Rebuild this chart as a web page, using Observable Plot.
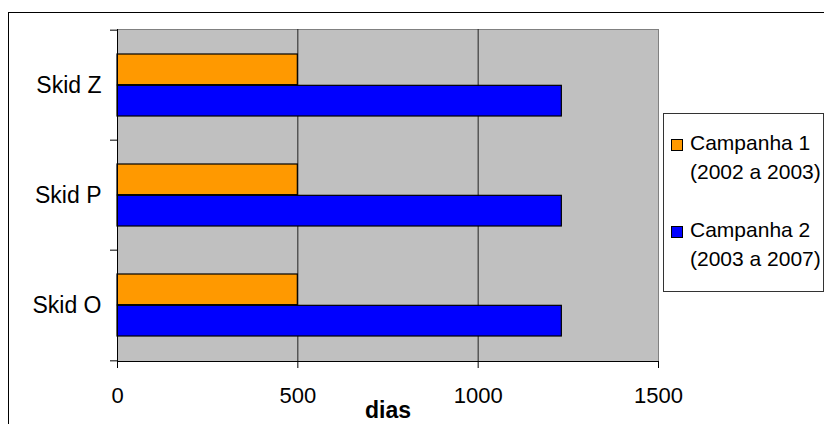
<!DOCTYPE html>
<html>
<head>
<meta charset="utf-8">
<script src="https://cdn.jsdelivr.net/npm/d3@7"></script>
<script src="https://cdn.jsdelivr.net/npm/@observablehq/plot@0.6"></script>
<style>
  html, body { margin: 0; padding: 0; background: #fff; overflow: hidden; }
  #wrap { position: relative; width: 824px; height: 424px; font-family: "Liberation Sans", Arial, sans-serif; }
  #border { position: absolute; left: 8px; top: 12px; width: 900px; height: 500px; border: 1px solid #000; box-sizing: border-box; }
  #chart { position: absolute; left: 0; top: 0; }
  #legend { position: absolute; left: 663px; top: 113px; width: 161px; height: 179px; box-sizing: border-box;
            border: 1px solid #333; background: #fff; font-size: 21px; color: #000; padding-top: 14px; }
  .entry { position: relative; padding-left: 26px; line-height: 29px; white-space: nowrap; }
  .entry + .entry { margin-top: 29px; }
  .swatch { position: absolute; left: 7px; top: 11px; width: 10px; height: 10px; border: 1px solid #000; box-sizing: content-box; }
</style>
</head>
<body>
<div id="wrap">
  <div id="border"></div>
  <div id="chart"></div>
  <div id="legend"></div>
</div>
<script>
// Categories and values (days per campaign)
const skids = ["Skid Z", "Skid P", "Skid O"];
const campanha1 = [500, 500, 500];
const campanha2 = [1232, 1232, 1232];
const seriesNames = ["Campanha 1", "Campanha 2"];
const seriesPeriods = ["(2002 a 2003)", "(2003 a 2007)"];
const seriesColors = ["#FF9900", "#0000FF"];
const xTicks = [0, 500, 1000, 1500];
const xTitle = "dias";

const rows1 = skids.map((s, i) => ({skid: s, dias: campanha1[i]}));
const rows2 = skids.map((s, i) => ({skid: s, dias: campanha2[i]}));

// Layout of the plot area
const W = 824, H = 424;
const mL = 117, mR = 166, mT = 29, mB = 63;
const band = (H - mT - mB) / skids.length;
const edge = 24; // gap between band edge and the bar pair

const chart = Plot.plot({
  width: W,
  height: H,
  marginLeft: mL,
  marginRight: mR,
  marginTop: mT,
  marginBottom: mB,
  style: {fontFamily: "'Liberation Sans', Arial, sans-serif", fontSize: "22px", color: "#000", background: "transparent"},
  x: {domain: [0, 1500], label: null},
  y: {domain: skids, padding: 0, label: null},
  marks: [
    Plot.frame({fill: "#C0C0C0", stroke: "#808080"}),
    Plot.gridX(xTicks.slice(1, -1), {stroke: "#222", strokeOpacity: 1}),
    Plot.barX(rows1, {x: "dias", y: "skid", fill: seriesColors[0], stroke: "#000", strokeWidth: 1.2,
                      insetTop: edge, insetBottom: band / 2}),
    Plot.barX(rows2, {x: "dias", y: "skid", fill: seriesColors[1], stroke: "#000", strokeWidth: 1.2,
                      insetTop: band / 2, insetBottom: edge}),
    Plot.frame({anchor: "left", stroke: "#000"}),
    Plot.frame({anchor: "bottom", stroke: "#000"}),
    // category labels
    Plot.axisY({tickSize: 0, tickPadding: 16, fontSize: 23, label: null}),
    // tick marks between categories
    Plot.axisY({fill: null, tickSize: 7, dy: -band / 2, label: null}),
    Plot.axisY([skids[skids.length - 1]], {fill: null, tickSize: 7, dy: band / 2, label: null}),
    // value axis
    Plot.axisX(xTicks, {tickSize: 7, tickPadding: 19, fontSize: 22, tickFormat: d => String(d), label: null}),
    Plot.text([xTitle], {frameAnchor: "bottom", dy: 49, fontWeight: "bold", fontSize: 23, lineAnchor: "middle"})
  ]
});
document.getElementById("chart").appendChild(chart);

// Legend
const legend = document.getElementById("legend");
seriesNames.forEach((name, i) => {
  const entry = document.createElement("div");
  entry.className = "entry";
  const sw = document.createElement("span");
  sw.className = "swatch";
  sw.style.background = seriesColors[i];
  entry.appendChild(sw);
  entry.appendChild(document.createTextNode(name));
  entry.appendChild(document.createElement("br"));
  entry.appendChild(document.createTextNode(seriesPeriods[i]));
  legend.appendChild(entry);
});
</script>
</body>
</html>
